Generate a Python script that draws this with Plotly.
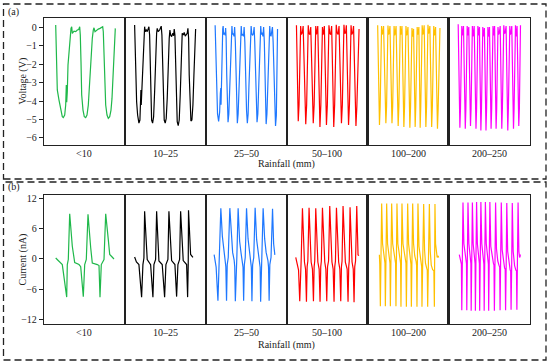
import plotly.graph_objects as go
from plotly.subplots import make_subplots

categories = ["<10", "10\u201325", "25\u201350", "50\u2013100", "100\u2013200", "200\u2013250"]
colors = ["#1fb84a", "#000000", "#1f78ff", "#ff0000", "#ffc000", "#ff00ff"]

# ---- (a) voltage waveforms, t in panel-local time units ----
v_t_lt10 = [11.7, 12.3, 13.3, 15, 16.7, 18.3, 19.3, 20.7, 21.7, 22.3, 22.7, 23.3, 24, 25, 26, 27, 27.7, 28.3, 30, 31.7, 33.3, 34.7, 35.7, 36.3, 37, 37.7, 39, 40.3, 41.7, 43, 44.3, 45.7, 47, 48.3, 49.3, 50, 51, 52.7, 54.3, 56, 57.7, 58.7, 59.3, 60, 60.7, 61.7, 63, 64.3, 65.7, 67, 68, 69, 69.7, 70.3, 71.3]
v_lt10 = [0.11, -1.5, -3.4, -3.95, -4.5, -4.85, -4.9, -4.76, -4.22, -3.14, -4.07, -3.5, -2.05, -1.33, -0.61, -0.07, 0.02, -0.34, -0.22, -0.25, -0.16, -0.13, 0.02, -0.43, -1.87, -3.68, -4.49, -4.85, -4.9, -4.76, -4.22, -2.95, -1.51, -0.61, -0.16, -0.04, -0.25, -0.16, -0.11, -0.07, 0.0, 0.02, -0.25, -1.69, -3.32, -4.22, -4.76, -4.94, -4.85, -4.49, -3.86, -2.6, -1.33, -0.61, -0.07]

v_t_10_25 = [9.7, 10.3, 11, 11.7, 12.7, 14, 15, 15.7, 16, 16.3, 17, 17.7, 18.3, 19, 19.7, 20.3, 21.3, 22.3, 23.3, 24, 24.7, 25.3, 26, 26.7, 27.7, 28.7, 29.7, 30.7, 31.7, 32.3, 33.3, 34.7, 35.7, 36.3, 37, 37.7, 38.3, 39.3, 40.3, 41.3, 42.3, 43.3, 44.3, 45, 45.7, 46.7, 47.7, 48.7, 49.3, 50, 50.7, 51.3, 52.3, 53.3, 54.3, 55.3, 56.3, 57.3, 58.3, 59.3, 60.3, 61.3, 62.3, 63, 63.7, 64.3, 65, 66, 67, 68, 69, 70, 70.7]
v_10_25 = [0.11, -1.15, -2.95, -4.04, -4.76, -5.2, -5.03, -4.31, -3.41, -4.22, -3.32, -2.05, -0.97, -0.34, 0.02, -0.25, -0.16, -0.25, -0.04, 0.02, -0.43, -2.05, -4.04, -5.03, -5.2, -4.85, -3.5, -1.51, -0.34, -0.07, -0.25, -0.16, -0.07, 0.05, -0.43, -2.23, -4.04, -5.03, -5.2, -4.94, -3.86, -1.87, -0.61, -0.16, -0.43, -0.52, -0.34, -0.47, -0.11, -0.43, -2.41, -4.22, -5.12, -5.33, -5.03, -3.68, -1.51, -0.34, -0.43, -0.29, -0.49, -0.4, -0.34, -0.07, -0.61, -2.59, -4.22, -5.08, -5.03, -4.22, -2.59, -0.79, -0.11]

v_t_25_50 = [9.3, 10, 10.8, 11.7, 12.8, 13.8, 14.5, 15, 15.2, 15.5, 16.2, 16.9, 17.3, 17.8, 18.6, 19.4, 19.8,
             20.3, 20.9, 21.5, 22.2, 23, 23.8, 24.7, 25.5, 26.1, 26.6, 27.4, 28.2, 28.8,
             29.5, 30.2, 30.9, 31.5, 32.3, 33.1, 34, 34.8, 35.4, 35.9, 36.8, 37.7, 38.3,
             39, 39.8, 40.7, 41.5, 42.3, 43.1, 44, 44.7, 45.3, 45.9, 46.8, 47.6, 48.3,
             48.9, 49.7, 50.5, 51.2, 52, 52.8, 53.7, 54.4, 54.9, 55.5, 56.3, 57.1, 57.8,
             58.5, 59.2, 59.8, 60.3, 61.1, 61.9, 62.7, 63.4, 63.9, 64.4, 65.2, 66, 66.6,
             67.3, 68.1, 68.9, 69.7, 70.5, 71, 71.4, 71.7]
v_25_50 = [0.1, -1.5, -3.6, -4.7, -5.1, -4.6, -3.6, -3.3, -4.2, -3.0, -1.3, -0.1, 0.05, -0.4, -0.3, -0.45, -0.05,
           -0.6, -2.6, -4.4, -5.15, -4.7, -3.4, -1.3, 0.0, 0.05, -0.4, -0.35, -0.5, 0.0,
           -0.8, -2.9, -4.5, -5.2, -4.7, -3.2, -1.2, 0.0, 0.05, -0.45, -0.4, -0.5, 0.0,
           -0.8, -2.9, -4.5, -5.2, -4.7, -3.2, -1.2, 0.0, 0.05, -0.35, -0.45, -0.35, 0.0,
           -0.8, -2.9, -4.5, -5.15, -4.7, -3.2, -1.2, 0.0, 0.05, -0.4, -0.3, -0.5, 0.0,
           -0.8, -2.9, -4.5, -5.25, -4.7, -3.2, -1.2, 0.0, 0.05, -0.35, -0.5, -0.2, 0.0,
           -0.8, -2.9, -4.6, -5.35, -4.8, -3.3, -1.3, -0.1]

v_t_50_100 = [9.7, 10.2, 10.8, 11.5, 12.3, 12.9, 13.5, 13.9, 14.6, 15.6, 16.4,
              17.2, 18.1, 19, 19.9, 20.5, 21.1, 21.5, 22.2, 23.2, 24,
              24.7, 25.6, 26.5, 27.4, 28, 28.6, 29, 29.7, 30.4, 31,
              31.6, 32.4, 33.2, 34.1, 34.7, 35.3, 35.7, 36.3, 37, 37.6,
              38.2, 38.9, 39.7, 40.6, 41.2, 41.8, 42.2, 43, 44, 44.9,
              45.5, 46.2, 47, 47.9, 48.5, 49.1, 49.5, 50.3, 51.3, 52.3,
              53, 53.9, 54.7, 55.6, 56.2, 56.8, 57.2, 57.9, 58.9, 59.6,
              60.2, 61, 61.8, 62.7, 63.3, 63.9, 64.3, 65, 66, 66.8,
              67.5, 68.3, 69.2, 70.1, 70.8, 71.6, 72.3]
v_50_100 = [0.1, -1.5, -4.0, -5.1, -4.2, -2.0, -0.1, 0.05, -0.4, -0.3, 0.05,
            -1.5, -4.0, -5.25, -4.2, -2.0, -0.1, 0.1, -0.35, -0.4, 0.0,
            -1.5, -4.0, -5.2, -4.2, -2.0, -0.1, 0.05, -0.4, -0.25, 0.05,
            -1.5, -4.0, -5.4, -4.2, -2.0, -0.1, 0.0, -0.4, -0.3, 0.05,
            -1.5, -4.0, -5.3, -4.2, -2.0, -0.1, 0.1, -0.35, -0.4, 0.05,
            -1.5, -4.0, -5.4, -4.2, -2.0, -0.1, 0.12, -0.3, -0.4, 0.05,
            -1.5, -4.0, -5.2, -4.2, -2.0, -0.1, 0.12, -0.35, -0.3, 0.1,
            -1.5, -4.0, -5.3, -4.2, -2.0, -0.1, 0.1, -0.4, -0.3, 0.05,
            -1.5, -4.0, -5.35, -4.3, -2.5, -0.8, -0.1]

v_t_100_200 = [10, 10.6, 11.2, 11.8, 12.5, 13, 13.5, 13.9, 14.5, 15.2, 15.9,
               16.9, 17.6, 18.2, 18.9, 19.4, 19.9, 20.3, 20.9, 21.6, 22.3,
               23.1, 23.7, 24.3, 25, 25.5, 26, 26.4, 27, 27.7, 28.4,
               29.3, 29.9, 30.5, 31.2, 31.7, 32.2, 32.6, 33.1, 33.7, 34.3,
               35, 35.6, 36.2, 36.9, 37.4, 37.9, 38.3, 38.9, 39.6, 40.3,
               41, 41.6, 42.2, 42.9, 43.4, 43.9, 44.3, 44.8, 45.4, 45.9,
               46.4, 46.9, 47.5, 48.1, 48.6, 49.1, 49.5, 50, 50.7, 51.2,
               51.6, 52, 52.5, 53.1, 53.6, 54.1, 54.5, 55.1, 55.8, 56.5,
               57.1, 57.6, 58.2, 58.9, 59.4, 59.9, 60.3, 60.9, 61.6, 62.2,
               62.9, 63.4, 64, 64.7, 65.2, 65.7, 66.1, 66.7, 67.4, 67.9,
               68.6, 69.2, 69.8, 70.5, 71.1, 71.7, 72.3]
v_100_200 = [0.1, -2.0, -4.3, -5.3, -4.3, -2.0, -0.1, 0.05, -0.4, -0.3, 0.05,
             -2.0, -4.3, -5.2, -4.3, -2.0, -0.1, 0.08, -0.4, -0.3, 0.05,
             -2.0, -4.3, -5.2, -4.3, -2.0, -0.1, 0.05, -0.45, -0.3, 0.05,
             -2.0, -4.3, -5.35, -4.3, -2.0, -0.1, 0.05, -0.4, -0.3, 0.05,
             -2.0, -4.3, -5.4, -4.3, -2.0, -0.1, 0.05, -0.45, -0.35, 0.0,
             -2.0, -4.3, -5.45, -4.3, -2.0, -0.1, -0.05, -0.45, -0.5, -0.1,
             -2.0, -4.3, -5.4, -4.3, -2.0, -0.1, 0.0, -0.4, -0.3, 0.0,
             -2.0, -4.3, -5.45, -4.3, -2.0, -0.1, 0.1, -0.4, -0.3, 0.1,
             -2.0, -4.3, -5.4, -4.3, -2.0, -0.1, 0.12, -0.35, -0.25, 0.05,
             -2.0, -4.3, -5.4, -4.3, -2.0, -0.1, 0.05, -0.45, -0.3, 0.0,
             -2.0, -4.3, -5.5, -4.4, -2.5, -0.8, -0.05]

v_t_200_250 = [9.6, 10.2, 10.8, 11.3, 11.9, 12.4, 12.8, 13.2, 13.7, 14.3, 14.9,
               15.6, 16.2, 16.7, 17.3, 17.8, 18.2, 18.6, 19.1, 19.7, 20.2,
               20.8, 21.4, 21.9, 22.5, 23, 23.4, 23.8, 24.4, 25, 25.6,
               26.3, 26.9, 27.4, 28, 28.5, 28.9, 29.3, 29.8, 30.4, 30.9,
               31.3, 31.8, 32.3, 32.9, 33.4, 33.8, 34.2, 34.7, 35.3, 35.8,
               36.4, 36.9, 37.4, 38, 38.5, 38.9, 39.3, 39.8, 40.4, 40.9,
               41.5, 42, 42.5, 43.1, 43.6, 44, 44.4, 44.9, 45.5, 46,
               46.5, 47, 47.5, 48.1, 48.6, 49, 49.4, 50, 50.8, 51.6,
               52.1, 52.7, 53.2, 53.8, 54.3, 54.8, 55.2, 55.9, 56.7, 57.5,
               58.1, 58.7, 59.2, 59.8, 60.3, 60.8, 61.2, 61.8, 62.6, 63.2,
               63.8, 64.4, 64.9, 65.5, 66, 66.5, 66.9, 67.4, 68, 68.5,
               69.1, 69.7, 70.2, 70.8, 71.2, 71.6, 71.9]
v_200_250 = [0.15, -2.0, -4.4, -5.45, -4.4, -2.0, -0.1, 0.05, -0.45, -0.35, 0.05,
             -2.0, -4.4, -5.5, -4.4, -2.0, -0.1, 0.05, -0.45, -0.3, 0.0,
             -2.0, -4.4, -5.35, -4.4, -2.0, -0.1, 0.05, -0.5, -0.35, 0.05,
             -2.0, -4.4, -5.5, -4.4, -2.0, -0.1, 0.05, -0.45, -0.3, 0.0,
             -2.0, -4.4, -5.6, -4.4, -2.0, -0.1, 0.0, -0.5, -0.4, -0.05,
             -2.0, -4.4, -5.6, -4.4, -2.0, -0.1, 0.0, -0.5, -0.45, 0.0,
             -2.0, -4.4, -5.5, -4.4, -2.0, -0.1, 0.05, -0.45, -0.3, 0.05,
             -2.0, -4.4, -5.5, -4.4, -2.0, -0.1, 0.0, -0.4, -0.3, 0.05,
             -2.0, -4.4, -5.5, -4.4, -2.0, -0.1, 0.1, -0.35, -0.3, 0.05,
             -2.0, -4.4, -5.6, -4.4, -2.0, -0.1, 0.05, -0.4, -0.3, 0.05,
             -2.0, -4.4, -5.5, -4.4, -2.0, -0.1, 0.1, -0.4, -0.5, 0.05,
             -2.0, -4.4, -5.35, -4.4, -2.2, -0.4, 0.1]

# ---- (b) current waveforms ----
i_t_lt10 = [11.7, 14, 16, 18.3, 22.7, 23.3, 24.3, 25.7, 28.3, 30.7, 35, 36.7, 39.3, 40.7, 42.3, 44, 46.7, 48.3, 53.3, 55, 56, 57.3, 60, 61.7, 64.3, 65.7, 70]
i_lt10 = [0.2, -0.2, -0.6, -1.1, -7.5, -1.1, -0.1, 8.9, 2.5, -0.7, -1.1, -1.5, -7.4, -1.1, -0.1, 8.8, 2.2, -0.8, -1.1, -1.3, -7.5, -1.1, -0.1, 8.9, 3.8, 0.9, 0.0]

i_t_10_25 = [9.7, 11.5, 14, 16.7, 18, 19, 19.7, 22.3, 25.7, 28, 29, 30.7, 31.7, 34, 37.3, 39.7, 41, 43, 44, 46.7, 50, 51.7, 53, 54.7, 55.7, 58.3, 61.7, 62.7, 63.3, 63.6, 65.7, 68]
i_10_25 = [0.4, -0.6, -1.1, -7.5, -1.1, 0.2, 9.4, -0.1, -1.1, -7.5, -1.1, -0.1, 9.4, -0.4, -1.1, -7.5, -1.1, -0.1, 9.4, -0.3, -1.1, -7.4, -1.1, -0.1, 9.4, -0.3, -1.1, -7.5, -1.2, 9.6, 0.9, 0.3]

i_t_25_50 = [8.3, 9.3, 10.3, 12.1, 13, 13.7, 15, 16.5, 17.8, 19.3, 20, 20.7, 21.4, 22.4, 24, 25.5, 26.8, 28.3, 28.9, 29.5, 30.2, 31, 32.3, 33.8, 35.2, 36.6, 37.2, 37.8, 38.5, 39.4, 40.7, 42.2, 43.6, 45, 45.5, 46.1, 46.8, 47.9, 49.3, 50.8, 52.3, 53.8, 54.3, 54.8, 55.5, 56.3, 57.3, 58.8, 60.3, 62.1, 62.7, 63.3, 64, 65.2, 66.7, 67.8, 69]
i_25_50 = [0.85, -0.4, -1.6, -8.2, -1.0, 0.3, 10.0, 4.5, 1.5, -0.3, -1.5, -8.2, -1.1, 0.3, 10.0, 4.0, 1.3, -0.2, -1.5, -8.3, -1.1, 0.3, 10.0, 3.5, 1.2, -0.4, -1.6, -8.2, -1.1, 0.3, 10.0, 4.0, 1.4, -0.3, -1.6, -8.3, -1.1, 0.3, 10.1, 3.8, 1.2, -0.4, -1.6, -8.4, -1.1, 0.3, 10.0, 4.0, 1.3, -0.3, -1.6, -8.2, -1.1, 0.3, 9.9, 3.0, 0.8]

i_t_50_100 = [9, 10.7, 11.8, 13, 13.7, 14.4, 15.7, 16.8, 17.7, 18.8, 19.7, 20.4, 21.1, 22.3, 23.4, 24.4, 25.7, 26.7, 27.4, 28, 29, 30.1, 31.1, 32.4, 33.3, 34, 34.6, 35.7, 36.9, 38, 39.1, 40, 40.8, 41.8, 43, 44.1, 45.2, 46.4, 47.3, 48, 48.7, 49.7, 50.8, 51.9, 53.1, 54, 54.7, 55.3, 56.3, 57.5, 58.6, 60.4, 61.3, 62, 62.5, 63.3, 64.3, 65.3, 66.5, 67.3, 68, 68.8, 70, 70.6, 71.3, 72.3]
i_50_100 = [0.3, -1.1, -2.2, -8.3, -1.5, -0.4, 10.0, 2.5, -0.6, -2.0, -8.4, -1.5, -0.4, 10.1, 2.5, -0.6, -2.0, -8.3, -1.5, -0.4, 10.0, 2.5, -0.6, -2.0, -8.4, -1.5, -0.4, 10.1, 2.5, -0.6, -2.0, -8.3, -1.5, -0.4, 10.4, 2.5, -0.6, -2.0, -8.4, -1.5, -0.4, 10.1, 2.5, -0.6, -2.0, -8.3, -1.5, -0.4, 10.4, 2.5, -0.6, -2.0, -8.4, -1.5, -0.4, 10.2, 2.5, -0.6, -2.0, -8.5, -1.5, -0.4, 10.4, 1.5, 0.8, 0.7]

i_t_100_200 = [11.7, 12.1, 12.7, 13.3, 14, 14.9, 15.9, 16.9, 17.3, 17.7, 18.3, 19, 19.9, 20.9, 21.9, 22.3, 22.7, 23.3, 24, 25, 26.2, 27.5, 27.9, 28.3, 28.8, 29.3, 30.2, 31.3, 32.4, 32.9, 33.3, 33.8, 34.3, 35.3, 36.5, 37.8, 38.3, 38.7, 39.3, 40, 40.9, 42, 43, 43.3, 43.7, 44.3, 45, 45.9, 47.1, 48.4, 48.9, 49.3, 49.8, 50.3, 51.3, 52.5, 53.6, 54, 54.3, 55, 56, 56.9, 57.8, 59, 59.6, 60, 60.7, 61.7, 62.6, 63.6, 65, 66.2, 66.7, 67, 67.3, 67.9, 68.6, 69.5, 70.5, 71]
i_100_200 = [0.85, -1.0, -9.3, -0.5, 10.9, 3.0, 1.0, 0.2, -0.8, -9.3, -0.5, 10.9, 3.0, 1.0, 0.2, -0.8, -9.3, -0.5, 10.9, 3.0, 1.0, 0.0, -0.8, -9.3, -0.5, 10.9, 3.0, 1.0, 0.0, -0.8, -9.4, -0.5, 10.9, 3.0, 1.0, 0.0, -0.8, -9.4, -0.5, 10.9, 3.0, 0.8, -0.2, -1.0, -9.4, -0.6, 10.9, 3.0, 0.6, -0.4, -1.2, -9.4, -0.8, 10.9, 2.5, 0.3, -0.8, -1.5, -9.4, -1.0, 10.8, 1.8, -0.8, -1.8, -2.2, -9.4, -1.2, 10.8, 1.5, -1.2, -2.1, -2.3, -9.4, -1.5, 10.8, 3.0, 0.8, 0.3, 0.6, 0.3]

i_t_200_250 = [10.7, 11.8, 12.8, 13.2, 13.8, 14.4, 15.3, 16.4, 17.5, 17.9, 18.2, 18.8, 19.4, 20.3, 21.3, 22.1, 22.3, 22.6, 23.2, 23.8, 24.6, 25.5, 26.3, 26.5, 26.8, 27.4, 28, 28.8, 29.8, 30.6, 30.8, 31.1, 31.7, 32.3, 33.2, 34.1, 35.1, 35.3, 35.6, 36.2, 36.8, 37.7, 38.7, 39.6, 39.8, 40.1, 40.7, 41.3, 42.2, 43.5, 44.8, 45.4, 45.8, 46.4, 47, 47.9, 49.2, 50.5, 51.1, 51.5, 52.1, 52.7, 53.6, 54.9, 56, 56.6, 57, 57.6, 58.2, 59.1, 60.4, 61.6, 62.1, 62.5, 63.1, 63.7, 64.6, 66, 67.3, 67.9, 68.3, 68.9, 69.5, 70.3, 71, 71.5, 71.8]
i_200_250 = [0.85, -0.3, -1.0, -10.1, -0.5, 11.1, 3.0, 0.8, -0.2, -0.9, -10.1, -0.5, 11.1, 3.0, 0.8, -0.2, -0.9, -10.2, -0.5, 11.1, 3.0, 0.8, -0.2, -0.9, -10.2, -0.5, 11.2, 3.0, 0.8, -0.2, -0.9, -10.2, -0.5, 11.2, 3.0, 0.8, -0.3, -1.0, -10.2, -0.5, 11.2, 3.0, 0.6, -0.4, -1.0, -10.2, -0.6, 11.2, 2.5, 0.2, -0.8, -1.2, -10.2, -0.8, 11.1, 2.0, -0.4, -1.3, -1.6, -10.1, -1.0, 11.1, 1.8, -0.8, -1.8, -2.0, -10.1, -1.2, 11.0, 1.5, -1.2, -2.2, -2.3, -10.0, -1.3, 11.0, 1.5, -1.3, -2.2, -2.3, -10.0, -1.0, 11.1, 1.5, 0.3, 0.5, 0.9]

volt_t = [v_t_lt10, v_t_10_25, v_t_25_50, v_t_50_100, v_t_100_200, v_t_200_250]
volt_v = [v_lt10, v_10_25, v_25_50, v_50_100, v_100_200, v_200_250]
curr_t = [i_t_lt10, i_t_10_25, i_t_25_50, i_t_50_100, i_t_100_200, i_t_200_250]
curr_i = [i_lt10, i_10_25, i_25_50, i_50_100, i_100_200, i_200_250]

volt_ticks = [0, -1, -2, -3, -4, -5, -6]
curr_ticks = [12, 6, 0, -6, -12]

W, H = 550, 364
FONT = "Liberation Serif, Times New Roman, serif"
INK = "#222"

fig = make_subplots(rows=2, cols=6, horizontal_spacing=0, vertical_spacing=0.1)

for k in range(6):
    fig.add_trace(go.Scatter(x=volt_t[k], y=volt_v[k], mode="lines",
                             line=dict(color=colors[k], width=1.2), showlegend=False,
                             hoverinfo="skip"), row=1, col=k + 1)
    fig.add_trace(go.Scatter(x=curr_t[k], y=curr_i[k], mode="lines",
                             line=dict(color=colors[k], width=1.2), showlegend=False,
                             hoverinfo="skip"), row=2, col=k + 1)

left, right = 44, 529.5
pw = (right - left) / 6
top_a, bot_a = 18, 145
top_b, bot_b = 195, 324

def px(x):
    return x / W

def py(y):
    return 1 - y / H

for k in range(6):
    for r in (1, 2):
        n = (r - 1) * 6 + k + 1
        xa = "xaxis" if n == 1 else f"xaxis{n}"
        ya = "yaxis" if n == 1 else f"yaxis{n}"
        fig.layout[xa].update(domain=[px(left + k * pw), px(left + (k + 1) * pw)],
                              range=[0, pw], showgrid=False, zeroline=False, automargin=False,
                              showticklabels=False, ticks="", showline=True, mirror=True,
                              linecolor=INK, linewidth=1.2, fixedrange=True)
        if r == 1:
            dom = [py(bot_a), py(top_a)]
            rng = [-6.38, 0.49]
            tv = volt_ticks
        else:
            dom = [py(bot_b), py(top_b)]
            rng = [-12.79, 12.59]
            tv = curr_ticks
        fig.layout[ya].update(domain=dom, range=rng, showgrid=False, zeroline=False, automargin=False,
                              showline=True, mirror=True, linecolor=INK, linewidth=1.2, fixedrange=True)
        if k == 0:
            fig.layout[ya].update(tickvals=tv, ticks="outside", ticklen=4, tickwidth=1,
                                  tickcolor=INK, showticklabels=True,
                                  tickfont=dict(family=FONT, size=10, color=INK))
        else:
            fig.layout[ya].update(showticklabels=False, ticks="")

annotations = []
for k, c in enumerate(categories):
    cx = px(left + (k + 0.5) * pw)
    annotations.append(dict(x=cx, y=py(153), xref="paper", yref="paper", text=c, showarrow=False,
                            font=dict(family=FONT, size=10, color=INK), xanchor="center", yanchor="middle"))
    annotations.append(dict(x=cx, y=py(332), xref="paper", yref="paper", text=c, showarrow=False,
                            font=dict(family=FONT, size=10, color=INK), xanchor="center", yanchor="middle"))
for yy in (164.5, 344.5):
    annotations.append(dict(x=px((left + right) / 2), y=py(yy), xref="paper", yref="paper",
                            text="Rainfall (mm)", showarrow=False,
                            font=dict(family=FONT, size=10, color=INK), xanchor="center", yanchor="middle"))
annotations.append(dict(x=px(22), y=py((top_a + bot_a) / 2), xref="paper", yref="paper", text="Voltage (V)",
                        showarrow=False, textangle=-90,
                        font=dict(family=FONT, size=10, color=INK), xanchor="center", yanchor="middle"))
annotations.append(dict(x=px(22), y=py((top_b + bot_b) / 2), xref="paper", yref="paper", text="Current (nA)",
                        showarrow=False, textangle=-90,
                        font=dict(family=FONT, size=10, color=INK), xanchor="center", yanchor="middle"))
annotations.append(dict(x=px(13.5), y=py(12.5), xref="paper", yref="paper", text="(a)", showarrow=False,
                        font=dict(family=FONT, size=10, color=INK), xanchor="center", yanchor="middle"))
annotations.append(dict(x=px(13.5), y=py(187), xref="paper", yref="paper", text="(b)", showarrow=False,
                        font=dict(family=FONT, size=10, color=INK), xanchor="center", yanchor="middle"))

shapes = []
for (y0, y1) in ((4, 179), (182, 360)):
    shapes.append(dict(type="rect", xref="paper", yref="paper", x0=px(3.5), x1=px(546),
                       y0=py(y1), y1=py(y0), line=dict(color=INK, width=1.3, dash="7px,4px"),
                       fillcolor="rgba(0,0,0,0)"))

fig.update_layout(width=W, height=H, margin=dict(l=0, r=0, t=0, b=0, autoexpand=False),
                  paper_bgcolor="white", plot_bgcolor="white",
                  annotations=annotations, shapes=shapes, showlegend=False)

fig.write_html("out.html", config={"displayModeBar": False, "staticPlot": True},
               post_script="document.body.style.margin='0';document.body.style.padding='0';")
